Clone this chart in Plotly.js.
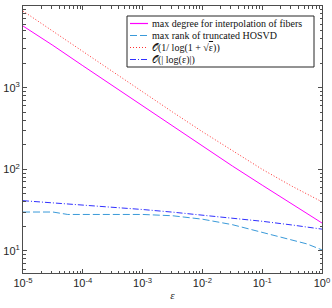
<!DOCTYPE html>
<html><head><meta charset="utf-8">
<script src="https://cdn.plot.ly/plotly-3.0.1.min.js"></script>
<style>html,body{margin:0;padding:0;background:#fff}#plot{width:332px;height:308px}</style>
</head><body><div id="plot"></div>
<script>
const epsVals = [1e-5, 3.162e-5, 1e-4, 3.162e-4, 1e-3, 3.162e-3, 1e-2, 3.162e-2, 1e-1, 3.162e-1, 1];
const maxDegree = [5700, 3300, 1860, 1060, 600, 340, 192, 110, 64, 37.6, 22];
const orderInvLog = [8700, 4910, 2770, 1563, 885, 504, 289, 168, 100, 62, 40];
const orderAbsLog = [41.3, 39.0, 36.7, 34.5, 32.2, 29.9, 27.6, 25.3, 23.1, 20.8, 18.5];
const rankEps = [1e-5, 3.162e-5, 5.6e-5, 1e-4, 1e-3, 3.162e-3, 1e-2, 3.162e-2, 1e-1, 3.162e-1, 0.56, 1];
const maxRank = [30, 30, 28, 28, 28, 27, 24.5, 21, 17, 13.6, 12.2, 10.3];
const names = ['max degree for interpolation of fibers', 'max rank of truncated HOSVD',
  '𝒪(1/ log(1 + √<span style="text-decoration:overline">ε</span>))', '𝒪(| log(ε)|)'];
const xTickExp = [-5, -4, -3, -2, -1, 0];
const yTickExp = [1, 2, 3, 4];

const colors = ['#ff00ff', '#3a9ad9', '#ff3030', '#3030ff'];
const dashes = ['solid', '7px,3px', '1px,2px', '6px,2px,1px,2px'];
const traces = [
  {x: epsVals, y: maxDegree, name: names[0], mode: 'lines', line: {color: colors[0], width: 1, dash: dashes[0]}},
  {x: rankEps, y: maxRank, name: names[1], mode: 'lines', line: {color: colors[1], width: 1, dash: dashes[1]}},
  {x: epsVals, y: orderInvLog, name: names[2], mode: 'lines', line: {color: colors[2], width: 1, dash: dashes[2]}},
  {x: epsVals, y: orderAbsLog, name: names[3], mode: 'lines', line: {color: colors[3], width: 1, dash: dashes[3]}}
];

function minorVals(e0, e1) {
  const v = [];
  for (let d = e0; d < e1; d++) for (let k = 2; k <= 9; k++) v.push(k * Math.pow(10, d));
  return v;
}
function axis(exps, lo, hi) {
  return {type: 'log', showgrid: false, zeroline: false, showline: true, linecolor: '#4d4d4d', linewidth: 1,
    mirror: 'allticks', ticks: 'inside', ticklen: 4, tickcolor: '#4d4d4d',
    tickmode: 'array', tickvals: exps.map(e => Math.pow(10, e)),
    ticktext: exps.map(e => '10<sup>' + (e < 0 ? '-' + (-e) : e) + '</sup>'),
    tickfont: {family: 'Liberation Sans, Arial', size: 11, color: '#262626'},
    minor: {tickmode: 'array', tickvals: minorVals(lo, hi), ticks: 'inside', ticklen: 2.5, tickcolor: '#4d4d4d', showgrid: false}};
}

// custom legend (pixel layout inside the plot area)
const L = 23, R = 322, T = 6, B = 273;
const px = v => (v - L) / (R - L), py = v => (B - v) / (B - T);
const shapes = [{type: 'rect', xref: 'paper', yref: 'paper', x0: px(127), x1: px(314), y0: py(67), y1: py(16),
  line: {color: '#262626', width: 1}, fillcolor: '#ffffff', layer: 'above'}];
const annotations = [];
const rowY = [23.5, 35.5, 47.5, 59.5];
names.forEach((n, i) => {
  shapes.push({type: 'line', xref: 'paper', yref: 'paper', x0: px(130), x1: px(148), y0: py(rowY[i]), y1: py(rowY[i]),
    line: {color: colors[i], width: 1.2, dash: dashes[i]}, layer: 'above'});
  annotations.push({xref: 'paper', yref: 'paper', x: px(150), y: py(rowY[i]), xanchor: 'left', yanchor: 'middle',
    text: n, showarrow: false, font: {family: 'Liberation Serif, DejaVu Serif, serif', size: 10, color: '#111'}});
});

const layout = {
  width: 332, height: 308, margin: {l: L, r: 332 - R, t: T, b: 308 - B},
  paper_bgcolor: '#fff', plot_bgcolor: '#fff', showlegend: false,
  xaxis: Object.assign(axis(xTickExp, -5, 0), {range: [-5, 0], title: {text: '<i>ε</i>', standoff: 3,
    font: {family: 'Liberation Serif, serif', size: 11, color: '#262626'}}}),
  yaxis: Object.assign(axis(yTickExp, 0, 4), {range: [0.73, 4.001]}),
  shapes: shapes, annotations: annotations
};
Plotly.newPlot('plot', traces, layout, {staticPlot: true});
</script></body></html>
